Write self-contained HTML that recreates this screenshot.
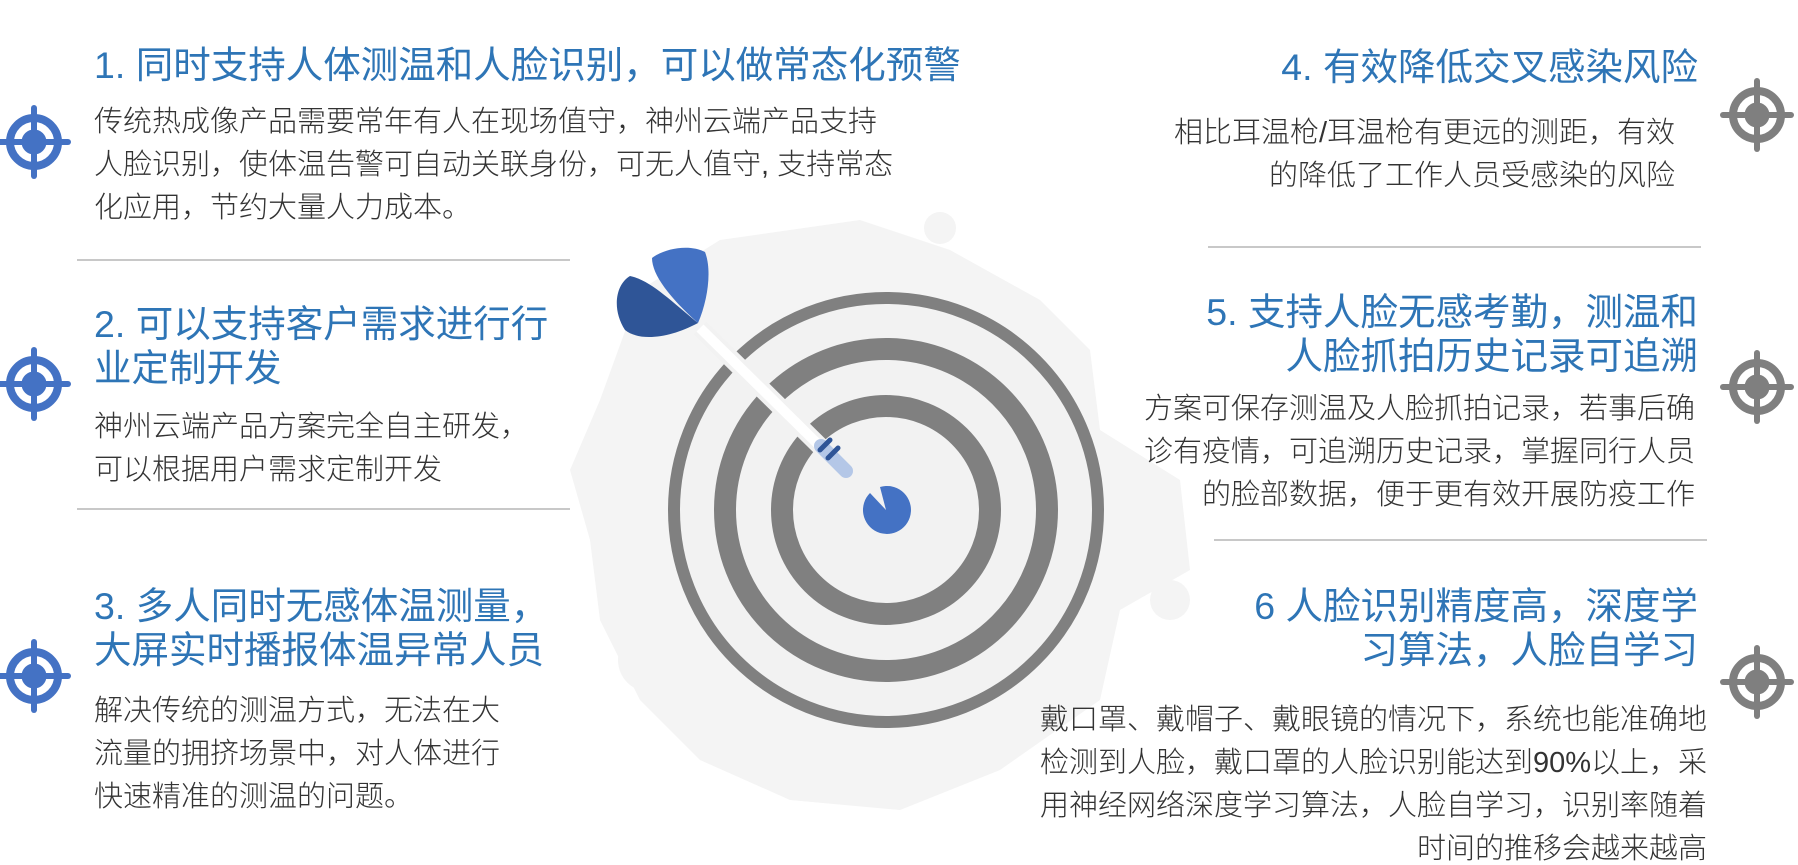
<!DOCTYPE html>
<html><head><meta charset="utf-8"><style>
html,body{margin:0;padding:0;background:#fff;}
#c{position:relative;width:1798px;height:865px;overflow:hidden;font-family:"Liberation Sans","Noto Sans CJK SC",sans-serif;}
.t{position:absolute;color:#2e75b6;font-size:37.5px;line-height:44px;white-space:nowrap;}
.b{position:absolute;color:#333;font-size:29px;line-height:43px;white-space:nowrap;font-weight:300;}
.r{text-align:right;}
.hr{position:absolute;height:2px;background:#c8c8c8;}
svg{position:absolute;left:0;top:0;}
</style></head><body><div id="c">
<svg width="1798" height="865" viewBox="0 0 1798 865">
 <defs>
  <g id="ic"><circle r="24" fill="none" stroke-width="8"/><line x1="-34" y1="0" x2="34" y2="0" stroke-width="6" stroke-linecap="round"/><line x1="0" y1="-34" x2="0" y2="34" stroke-width="6" stroke-linecap="round"/><circle r="12"/></g>
 </defs>
 <g fill="#f4f4f4">
  <path d="M640 290 L720 240 L860 220 L950 250 L1040 300 L1090 350 L1100 430 L1180 480 L1190 570 L1120 610 L1100 700 L1000 770 L900 810 L790 800 L700 760 L640 700 L600 620 L590 540 L570 470 L600 400 Z"/>
  <circle cx="940" cy="228" r="16"/><circle cx="1170" cy="600" r="20"/>
  <circle cx="650" cy="660" r="32"/>
 </g>
 <circle cx="886" cy="510" r="206" fill="#f2f2f2"/>
 <circle cx="886" cy="510" r="212" fill="none" stroke="#808080" stroke-width="12"/>
 <circle cx="886" cy="510" r="161" fill="none" stroke="#808080" stroke-width="22"/>
 <circle cx="886" cy="510" r="104" fill="none" stroke="#808080" stroke-width="22"/>
 <line x1="700" y1="328" x2="834" y2="460" stroke="#f2f2f2" stroke-width="18"/>
 <line x1="700" y1="328" x2="834" y2="460" stroke="#fff" stroke-width="10"/>
 <line x1="821" y1="446" x2="846" y2="471" stroke="#b4c7e7" stroke-width="14" stroke-linecap="round"/>
 <line x1="820" y1="450" x2="830" y2="440" stroke="#2f5597" stroke-width="5" stroke-linecap="round"/>
 <line x1="828" y1="458" x2="838" y2="448" stroke="#2f5597" stroke-width="5" stroke-linecap="round"/>
 <path d="M886 510 L870 493 A24 24 0 1 0 880 487 Z" fill="#4472c4"/>
 <path d="M698 323 C670 300 650 280 630 276 C615 285 612 310 625 330 C640 342 670 338 698 323 Z" fill="#2f5597"/>
 <path d="M698 323 C708 300 712 270 705 252 C690 244 665 248 652 258 C652 275 670 298 698 323 Z" fill="#4472c4"/>
 <g fill="#4472c4" stroke="#4472c4">
  <use href="#ic" transform="translate(34,142)"/>
  <use href="#ic" transform="translate(34,384)"/>
  <use href="#ic" transform="translate(34,676)"/>
 </g>
 <g fill="#7f7f7f" stroke="#7f7f7f">
  <use href="#ic" transform="translate(1757,115)"/>
  <use href="#ic" transform="translate(1757,387)"/>
  <use href="#ic" transform="translate(1757,682)"/>
 </g>
</svg>

<div class="hr" style="left:77px;top:259px;width:493px"></div>
<div class="hr" style="left:77px;top:508px;width:493px"></div>
<div class="hr" style="left:1208px;top:246px;width:493px"></div>
<div class="hr" style="left:1214px;top:539px;width:493px"></div>

<div class="t" style="left:94px;top:43px">1. 同时支持人体测温和人脸识别，可以做常态化预警</div>
<div class="b" style="left:94px;top:101px"> 传统热成像产品需要常年有人在现场值守，神州云端产品支持<br>人脸识别，使体温告警可自动关联身份，可无人值守, 支持常态<br>化应用，节约大量人力成本。</div>

<div class="t" style="left:94px;top:302px">2. 可以支持客户需求进行行<br>业定制开发</div>
<div class="b" style="left:94px;top:406px">神州云端产品方案完全自主研发，<br>可以根据用户需求定制开发</div>

<div class="t" style="left:94px;top:584px">3. 多人同时无感体温测量，<br>大屏实时播报体温异常人员</div>
<div class="b" style="left:94px;top:690px">解决传统的测温方式，无法在大<br>流量的拥挤场景中，对人体进行<br>快速精准的测温的问题。</div>

<div class="t r" style="right:100px;top:45px">4. 有效降低交叉感染风险</div>
<div class="b r" style="right:123px;top:112px">相比耳温枪/耳温枪有更远的测距，有效<br>的降低了工作人员受感染的风险</div>

<div class="t r" style="right:100px;top:290px">5. 支持人脸无感考勤，测温和<br>人脸抓拍历史记录可追溯</div>
<div class="b r" style="right:103px;top:388px">方案可保存测温及人脸抓拍记录，若事后确<br>诊有疫情，可追溯历史记录，掌握同行人员<br>的脸部数据，便于更有效开展防疫工作</div>

<div class="t r" style="right:100px;top:584px">6 人脸识别精度高，深度学<br>习算法，人脸自学习</div>
<div class="b r" style="right:91px;top:699px">戴口罩、戴帽子、戴眼镜的情况下，系统也能准确地<br>检测到人脸，戴口罩的人脸识别能达到90%以上，采<br>用神经网络深度学习算法，人脸自学习，识别率随着<br>时间的推移会越来越高</div>
</div></body></html>
